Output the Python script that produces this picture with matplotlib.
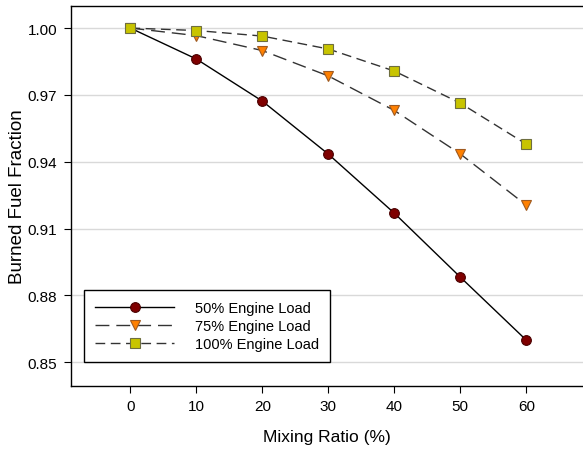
import numpy as np
import matplotlib.pyplot as plt

plt.rcParams['font.family'] = ['Liberation Sans', 'DejaVu Sans']

# data
mixing = [0, 10, 20, 30, 40, 50, 60]
load50 = [1.000, 0.9861, 0.9672, 0.9434, 0.9169, 0.8882, 0.8599]
load75 = [1.000, 0.9966, 0.9899, 0.9785, 0.9630, 0.9435, 0.9205]
load100 = [1.000, 0.9989, 0.9964, 0.9906, 0.9807, 0.9663, 0.9479]
yticks = [0.85, 0.88, 0.91, 0.94, 0.97, 1.00]
xticks = [0, 10, 20, 30, 40, 50, 60]

fig = plt.figure(figsize=(5.83, 4.52), dpi=100)
ax = fig.add_axes([0.1218, 0.1438, 0.8782, 0.8407])

ax.plot(mixing, load50, '-o', color='black', lw=1.0,
        ms=7, mfc='#7f0000', mec='#4a0000', mew=0.8,
        label='50% Engine Load', zorder=3)
ax.plot(mixing, load75, color='#333333', lw=1.0, dashes=(10, 5),
        marker='v', ms=7.5, mfc='#ff8000', mec='#a05a20', mew=0.8,
        label='75% Engine Load', zorder=3)
ax.plot(mixing, load100, color='#333333', lw=1.0, dashes=(7, 4),
        marker='s', ms=7, mfc='#c8c400', mec='#6e6e40', mew=0.8,
        label='100% Engine Load', zorder=3)

ax.set_xlim(-9, 68.6)
ax.set_ylim(0.8393, 1.0099)
ax.set_xticks(xticks)
ax.set_yticks(yticks)
ax.set_yticklabels([f'{v:.2f}' for v in yticks])
ax.tick_params(labelsize=11, length=5, width=0.8, color='black')
ax.tick_params(axis='x', pad=4)
ax.tick_params(axis='y', pad=5)
ax.yaxis.grid(True, color='#d9d9d9', lw=1.0)
ax.set_axisbelow(True)
for s in ['left', 'bottom', 'top']:
    ax.spines[s].set_linewidth(1.0)
ax.spines['right'].set_visible(False)

ax.set_xlabel('Mixing Ratio (%)', fontsize=12.5, labelpad=12)
ax.set_ylabel('Burned Fuel Fraction', fontsize=13.5, labelpad=1)

leg = ax.legend(loc='lower left', bbox_to_anchor=(0.012, 0.045),
                fontsize=10.5, handlelength=5.4, handletextpad=1.4,
                labelspacing=0.25, borderpad=0.75, fancybox=False,
                framealpha=1)
leg.get_frame().set_edgecolor('black')
leg.get_frame().set_linewidth(1.0)

fig.savefig('out.png', dpi=100)
